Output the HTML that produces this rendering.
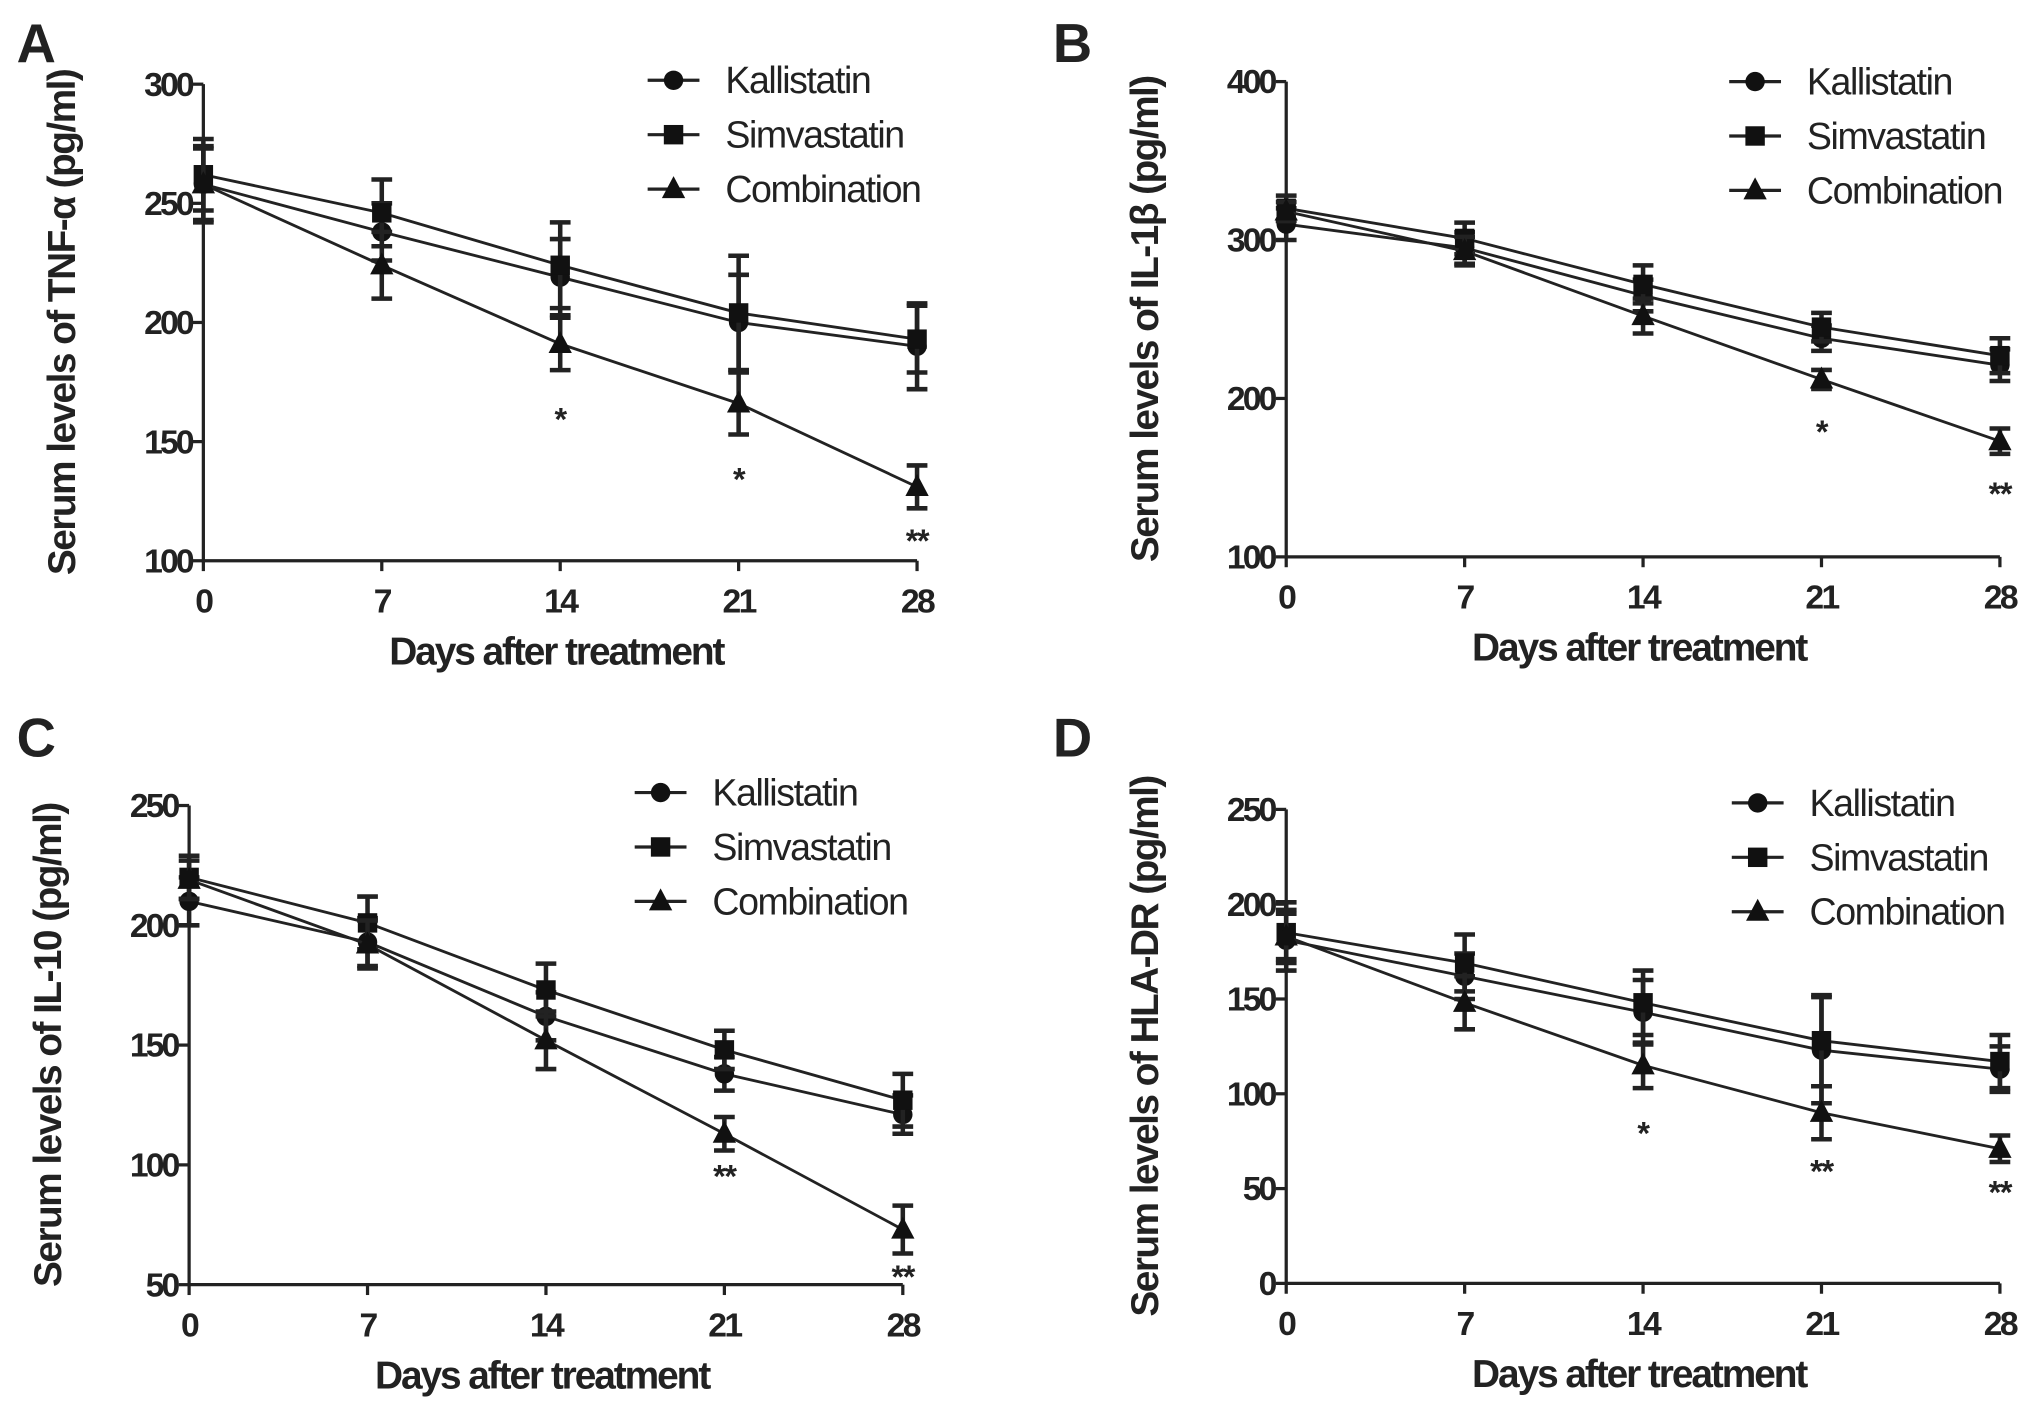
<!DOCTYPE html>
<html><head><meta charset="utf-8"><style>
html,body{margin:0;padding:0;background:#fff}
svg{display:block}
text{font-family:"Liberation Sans",Arial,sans-serif;font-weight:bold;fill:#222}
</style></head><body>
<svg id="fig" width="2031" height="1409" viewBox="0 0 1568 1088" preserveAspectRatio="none" xmlns="http://www.w3.org/2000/svg"></svg>
<script>
const days = [0, 7, 14, 21, 28];
const seriesNames = ["Kallistatin", "Simvastatin", "Combination"];
const aKal = [258, 238, 219, 200, 190];
const aSim = [262, 246, 224, 204, 193];
const aCom = [258, 224, 191, 166, 131];
const aErr = [[16, 12, 16, 20, 18], [15, 14, 18, 24, 14], [15, 14, 11, 13, 9]];
const bKal = [310, 295, 265, 238, 221];
const bSim = [320, 301, 272, 245, 227];
const bCom = [318, 293, 252, 212, 173];
const bErr = [[10, 10, 10, 8, 10], [8, 10, 12, 9, 11], [6, 9, 11, 6, 8]];
const cKal = [210, 193, 162, 138, 121];
const cSim = [220, 201, 173, 148, 127];
const cCom = [219, 192, 152, 113, 73];
const cErr = [[10, 10, 10, 7, 8], [9, 11, 11, 8, 11], [8, 10, 12, 7, 10]];
const dKal = [181, 162, 143, 123, 113];
const dSim = [185, 169, 148, 128, 117];
const dCom = [183, 148, 115, 90, 71];
const dErr = [[16, 12, 17, 28, 12], [16, 15, 17, 24, 14], [12, 14, 12, 14, 7]];
const aTicks = [100, 150, 200, 250, 300];
const bTicks = [100, 200, 300, 400];
const cTicks = [50, 100, 150, 200, 250];
const dTicks = [0, 50, 100, 150, 200, 250];
const aStars = [[14, 160, "*"], [21, 135, "*"], [28, 109, "**"]];
const bStars = [[21, 180, "*"], [28, 141, "**"]];
const cStars = [[21, 96, "**"], [28, 54, "**"]];
const dStars = [[14, 80, "*"], [21, 60, "**"], [28, 49, "**"]];

const NS = "http://www.w3.org/2000/svg";
const svg = document.getElementById('fig');
function mk(tag, attrs, parent) {
  const e = document.createElementNS(NS, tag);
  for (const k in attrs) e.setAttribute(k, attrs[k]);
  (parent || svg).appendChild(e);
  return e;
}
const panels = [
  {id:"a", letter:"A", lx:28, ly:48, x0:157, x1:708, yTop:65, yBot:433, ymin:100, ymax:300, ticks:aTicks,
   data:[aKal,aSim,aCom], err:aErr, stars:aStars, ytitle:"Serum levels of TNF-α (pg/ml)", legX:500, legY:62},
  {id:"b", letter:"B", lx:828, ly:48, x0:993, x1:1544, yTop:63, yBot:430, ymin:100, ymax:400, ticks:bTicks,
   data:[bKal,bSim,bCom], err:bErr, stars:bStars, ytitle:"Serum levels of IL-1β (pg/ml)", legX:1335, legY:63},
  {id:"c", letter:"C", lx:28, ly:584, x0:146, x1:697, yTop:622, yBot:992, ymin:50, ymax:250, ticks:cTicks,
   data:[cKal,cSim,cCom], err:cErr, stars:cStars, ytitle:"Serum levels of IL-10 (pg/ml)", legX:490, legY:612},
  {id:"d", letter:"D", lx:828, ly:584, x0:993, x1:1544, yTop:625, yBot:991, ymin:0, ymax:250, ticks:dTicks,
   data:[dKal,dSim,dCom], err:dErr, stars:dStars, ytitle:"Serum levels of HLA-DR (pg/ml)", legX:1337, legY:620}
];
function marker(g, kind, x, y) {
  let m;
  if (kind === 0) m = mk('circle', {cx:x, cy:y, r:7.5, fill:'#111'}, g);
  else if (kind === 1) m = mk('rect', {x:x-7.5, y:y-7.5, width:15, height:15, fill:'#111'}, g);
  else m = mk('polygon', {points:`${x},${y-10} ${x+9},${y+7} ${x-9},${y+7}`, fill:'#111'}, g);
  return m;
}
panels.forEach(p => {
  const g = mk('g', {});
  
  
  const xs = d => p.x0 + (d - days[0]) / (days[days.length-1] - days[0]) * (p.x1 - p.x0);
  const ys = v => p.yBot - (v - p.ymin) / (p.ymax - p.ymin) * (p.yBot - p.yTop);
  const lt = mk('text', {x:p.lx, y:p.ly, 'font-size':42, 'text-anchor':'middle'}, g);
  lt.textContent = p.letter;
  
  
  const ax = mk('path', {d:`M${p.x0},${p.yTop} V${p.yBot} H${p.x1}`, stroke:'#222', 'stroke-width':2.5, fill:'none'}, g);
  
  
  p.ticks.forEach(t => {
    const y = ys(t);
    mk('line', {x1:p.x0-8, x2:p.x0, y1:y, y2:y, stroke:'#222', 'stroke-width':2.5}, g);
    const tx = mk('text', {x:p.x0-9, y:y+9, 'font-size':26, 'text-anchor':'end', 'letter-spacing':-2.2}, g);
    tx.textContent = t;
    
    
  });
  days.forEach(d => {
    const x = xs(d);
    mk('line', {x1:x, x2:x, y1:p.yBot, y2:p.yBot+8, stroke:'#222', 'stroke-width':2.5}, g);
    const tx = mk('text', {x:x, y:p.yBot+40, 'font-size':26, 'text-anchor':'middle', 'letter-spacing':-2}, g);
    tx.textContent = d;
    
    
  });
  const xt = mk('text', {x:(p.x0+p.x1)/2-3, y:p.yBot+80, 'font-size':30, 'text-anchor':'middle', 'letter-spacing':-1.6}, g);
  xt.textContent = "Days after treatment";
  
  
  const cy = (p.yTop + p.yBot) / 2;
  const yx = p.x0 - 99;
  const yt = mk('text', {x:yx, y:cy, 'font-size':30, 'text-anchor':'middle', transform:`rotate(-90 ${yx} ${cy})`, 'letter-spacing':-1.2}, g);
  yt.textContent = p.ytitle;
  
  
  p.data.forEach((vals, si) => {
    const sg = mk('g', {}, g);
    
    
    const pts = vals.map((v, i) => xs(days[i]) + ',' + ys(v)).join(' ');
    mk('polyline', {points:pts, stroke:'#222', 'stroke-width':2.2, fill:'none'}, sg);
    vals.forEach((v, i) => {
      const x = xs(days[i]), e = p.err[si][i];
      const eb = mk('path', {d:`M${x},${ys(v+e)} V${ys(v-e)} M${x-8},${ys(v+e)} H${x+8} M${x-8},${ys(v-e)} H${x+8}`, stroke:'#222', 'stroke-width':3.5, fill:'none'}, sg);
      
      
      const m = marker(sg, si, x, ys(v));
      
      
    });
  });
  p.stars.forEach(s => {
    const st = mk('text', {x:xs(s[0]), y:ys(s[1])+10, 'font-size':25, 'text-anchor':'middle', 'letter-spacing':-1}, g);
    st.textContent = s[2];
    
    
  });
  seriesNames.forEach((n, i) => {
    const y = p.legY + i * 42;
    const lg = mk('g', {}, g);
    
    
    mk('line', {x1:p.legX, x2:p.legX+40, y1:y, y2:y, stroke:'#222', 'stroke-width':2.5}, lg);
    marker(lg, i, p.legX+20, y);
    const t = mk('text', {x:p.legX+60, y:y+10, 'font-size':29, style:'font-weight:normal', 'letter-spacing':-1.1}, lg);
    t.textContent = n;
  });
});
</script>
</body></html>
